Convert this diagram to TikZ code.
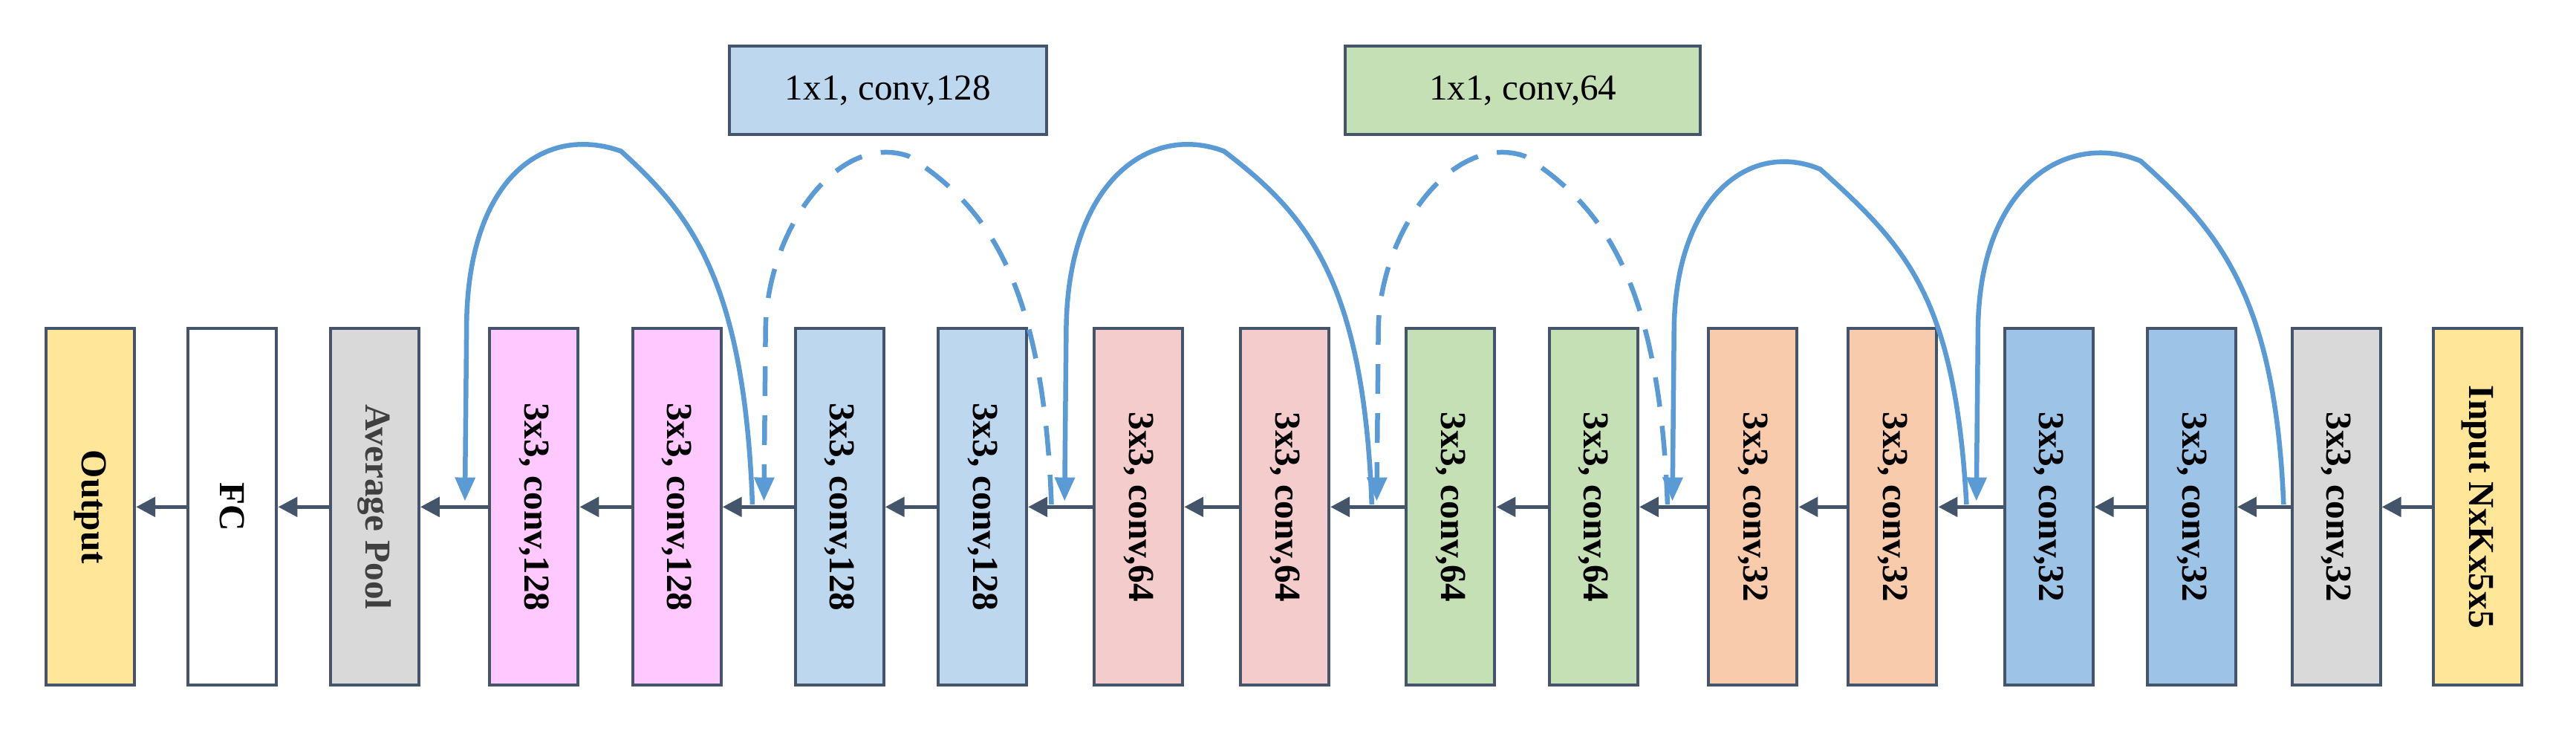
\documentclass[tikz,border=0pt]{standalone}
\usepackage{fontspec}
\setmainfont{Liberation Serif}
\usetikzlibrary{arrows.meta}
\definecolor{edge}{HTML}{44546A}
\definecolor{skip}{HTML}{5B9BD5}
\definecolor{cyel}{HTML}{FFE699}
\definecolor{cgray}{HTML}{D9D9D9}
\definecolor{cpink}{HTML}{FFC9FF}
\definecolor{clblue}{HTML}{BDD7EE}
\definecolor{cred}{HTML}{F4CCCC}
\definecolor{cgreen}{HTML}{C5E0B4}
\definecolor{corange}{HTML}{F8CBAD}
\definecolor{cblue}{HTML}{9DC3E6}
\begin{document}
\begin{tikzpicture}[x=0.2212mm,y=-0.2212mm,
  box/.style={draw=edge,line width=0.4mm,rectangle,rotate=-90,minimum width=48mm,minimum height=11.9mm,inner sep=0pt,font=\fontsize{14}{16}\selectfont\bfseries},
  top/.style={draw=edge,line width=0.4mm,rectangle,minimum height=11.9mm,inner sep=0pt,font=\fontsize{14}{16}\selectfont},
  arr/.style={draw=edge,line width=0.55mm,-{Triangle[length=2.6mm,width=2.6mm]}},
  sk/.style={draw=skip,line width=0.65mm,-{Triangle[length=3.2mm,width=2.6mm]}},
  dsk/.style={sk,dash pattern=on 4mm off 2.6mm}]
\useasboundingbox (0,0) rectangle (1568,450);
\node[box,fill=cyel] (out) at (55,308.5) {Output};
\node[box,fill=white] (fc) at (141.5,308.5) {FC};
\node[box,fill=cgray,text=black!75] (avg) at (228,308.5) {Average Pool};
\node[box,fill=cpink] (p1) at (325,308.5) {3x3, conv,128};
\node[box,fill=cpink] (p2) at (412,308.5) {3x3, conv,128};
\node[box,fill=clblue] (lb1) at (511,308.5) {3x3, conv,128};
\node[box,fill=clblue] (lb2) at (598,308.5) {3x3, conv,128};
\node[box,fill=cred] (r1) at (693,308.5) {3x3, conv,64};
\node[box,fill=cred] (r2) at (782,308.5) {3x3, conv,64};
\node[box,fill=cgreen] (g1) at (883,308.5) {3x3, conv,64};
\node[box,fill=cgreen] (g2) at (970,308.5) {3x3, conv,64};
\node[box,fill=corange] (o1) at (1067,308.5) {3x3, conv,32};
\node[box,fill=corange] (o2) at (1152,308.5) {3x3, conv,32};
\node[box,fill=cblue] (b1) at (1247,308.5) {3x3, conv,32};
\node[box,fill=cblue] (b2) at (1334,308.5) {3x3, conv,32};
\node[box,fill=cgray] (gr) at (1422,308.5) {3x3, conv,32};
\node[box,fill=cyel] (in) at (1508,308.5) {Input NxKx5x5};
\node[top,fill=clblue,minimum width=42.7mm] (t1) at (540.5,55) {1x1, conv,128};
\node[top,fill=cgreen,minimum width=47.8mm] (t2) at (927,55) {1x1, conv,64};
\foreach \a/\b in {in/gr,gr/b2,b2/b1,b1/o2,o2/o1,o1/g2,g2/g1,g1/r2,r2/r1,r1/lb2,lb2/lb1,lb1/p2,p2/p1,p1/avg,avg/fc,fc/out}
  \draw[arr] (\a) -- (\b);
% skip connections
\coordinate (s1) at (1390,307); \coordinate (e1) at (1203,305);
\coordinate (s2) at (1197,307); \coordinate (e2) at (1018,305);
\coordinate (s3) at (835,307);  \coordinate (e3) at (648,305);
\coordinate (s4) at (458,307);  \coordinate (e4) at (283,305);
\coordinate (s5) at (1015,307); \coordinate (e5) at (838,305);
\coordinate (s6) at (640,307);  \coordinate (e6) at (465,305);
\draw[sk] (s1) .. controls (1385,180) and (1350,140) .. (1303,98) .. controls (1260,80) and (1205,110) .. (1204,200) -- (e1);
\draw[sk] (s2) .. controls (1190,180) and (1160,150) .. (1108,103) .. controls (1065,85) and (1020,120) .. (1019,200) -- (e2);
\draw[sk] (s3) .. controls (830,170) and (795,130) .. (745,92) .. controls (700,75) and (650,110) .. (649,200) -- (e3);
\draw[sk] (s4) .. controls (453,170) and (420,130) .. (378,92) .. controls (330,75) and (284,110) .. (284,200) -- (e4);
\draw[dsk] (s5) .. controls (1010,170) and (975,125) .. (928,95) .. controls (885,80) and (840,140) .. (839,200) -- (e5);
\draw[dsk] (s6) .. controls (635,170) and (600,125) .. (553,95) .. controls (510,80) and (467,140) .. (466,200) -- (e6);
\end{tikzpicture}
\end{document}
